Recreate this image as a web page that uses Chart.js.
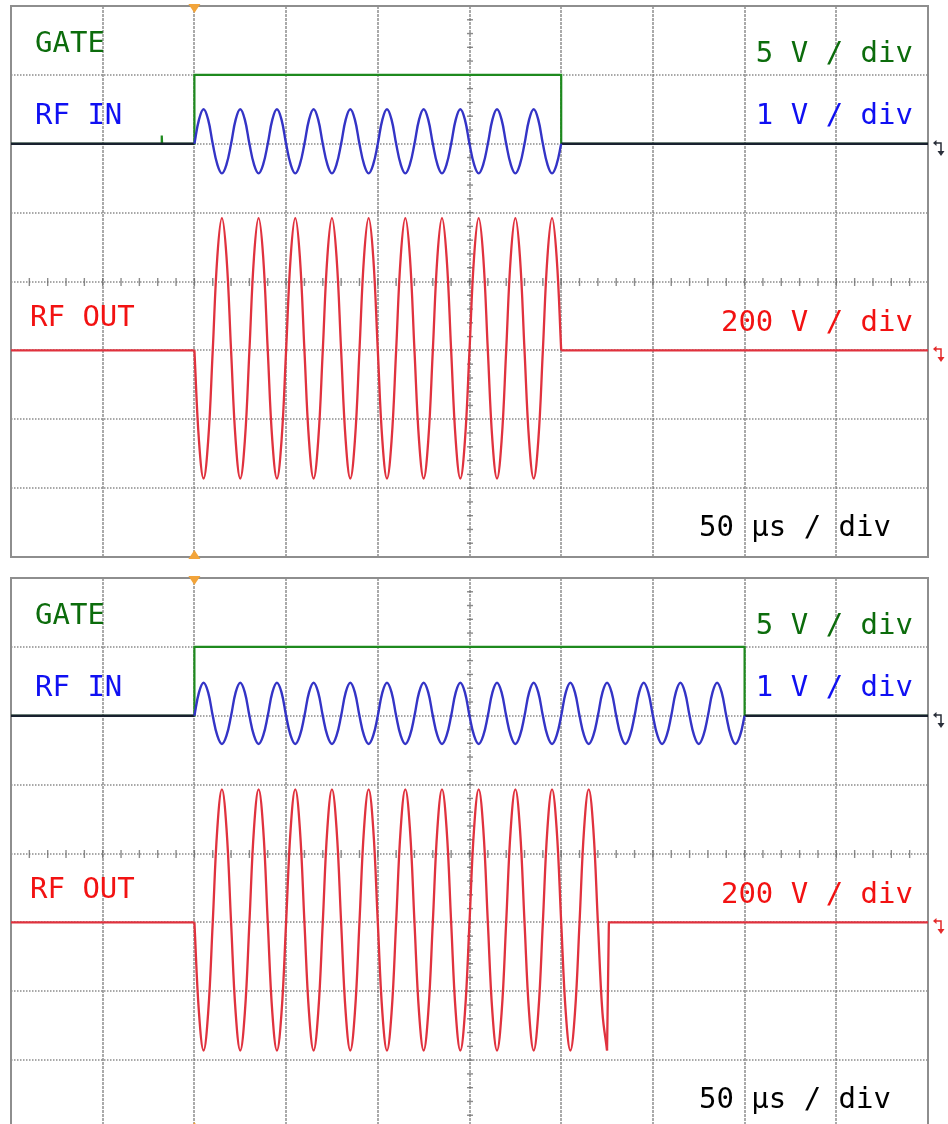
<!DOCTYPE html>
<html>
<head>
<meta charset="utf-8">
<script src="https://cdn.jsdelivr.net/npm/chart.js@4.4.1/dist/chart.umd.min.js"></script>
<style>
  html, body { margin: 0; padding: 0; background: #fff; overflow: hidden; width: 948px; height: 1124px; }
  canvas { position: absolute; left: 0; }
  #scopeTop { top: 0; }
  #scopeBottom { top: 572px; }
</style>
</head>
<body>
<canvas id="scopeTop" width="948" height="567"></canvas>
<canvas id="scopeBottom" width="948" height="567"></canvas>
<script>
// Time base: 10 divisions, 50 µs per division
const timeRangeUs = [0, 500];
const timePerDivUs = 50;
const verticalDivs = [-4, 4];

// Channel scales and trace offsets (in divisions from screen centre)
const voltsPerDiv = { gate: 5, rfIn: 1, rfOut: 200 };
const baselineDiv = { gate: 2, rfIn: 2, rfOut: -1 };

// Sample instants of the 50 kHz bursts, eight per 20 µs cycle (one cycle per row)
const burstTimeUs = [
  100, 102.5, 105, 107.5, 110, 112.5, 115, 117.5,
  120, 122.5, 125, 127.5, 130, 132.5, 135, 137.5,
  140, 142.5, 145, 147.5, 150, 152.5, 155, 157.5,
  160, 162.5, 165, 167.5, 170, 172.5, 175, 177.5,
  180, 182.5, 185, 187.5, 190, 192.5, 195, 197.5,
  200, 202.5, 205, 207.5, 210, 212.5, 215, 217.5,
  220, 222.5, 225, 227.5, 230, 232.5, 235, 237.5,
  240, 242.5, 245, 247.5, 250, 252.5, 255, 257.5,
  260, 262.5, 265, 267.5, 270, 272.5, 275, 277.5,
  280, 282.5, 285, 287.5, 290, 292.5, 295, 297.5,
  300, 302.5, 305, 307.5, 310, 312.5, 315, 317.5,
  320, 322.5, 325, 327.5, 330, 332.5, 335, 337.5,
  340, 342.5, 345, 347.5, 350, 352.5, 355, 357.5,
  360, 362.5, 365, 367.5, 370, 372.5, 375, 377.5,
  380, 382.5, 385, 387.5, 390, 392.5, 395, 397.5,
  400
];

// ---------- Capture 1: 200 µs gate ----------
const gateTopTime  = [0, 82.0, 82.2, 82.4, 100, 100, 300, 300, 500];
const gateTopVolts = [0, 0, 0.6, 0, 0, 5, 5, 0, 0];

const rfInTopVolts = [
  0, 0.35, 0.5, 0.35, 0, -0.3, -0.43, -0.3,
  0, 0.35, 0.5, 0.35, 0, -0.3, -0.43, -0.3,
  0, 0.35, 0.5, 0.35, 0, -0.3, -0.43, -0.3,
  0, 0.35, 0.5, 0.35, 0, -0.3, -0.43, -0.3,
  0, 0.35, 0.5, 0.35, 0, -0.3, -0.43, -0.3,
  0, 0.35, 0.5, 0.35, 0, -0.3, -0.43, -0.3,
  0, 0.35, 0.5, 0.35, 0, -0.3, -0.43, -0.3,
  0, 0.35, 0.5, 0.35, 0, -0.3, -0.43, -0.3,
  0, 0.35, 0.5, 0.35, 0, -0.3, -0.43, -0.3,
  0, 0.35, 0.5, 0.35, 0, -0.3, -0.43, -0.3,
  0
];
const rfOutTopVolts = [
  0, -263, -372, -263, 0, 272, 384, 272,
  0, -263, -372, -263, 0, 272, 384, 272,
  0, -263, -372, -263, 0, 272, 384, 272,
  0, -263, -372, -263, 0, 272, 384, 272,
  0, -263, -372, -263, 0, 272, 384, 272,
  0, -263, -372, -263, 0, 272, 384, 272,
  0, -263, -372, -263, 0, 272, 384, 272,
  0, -263, -372, -263, 0, 272, 384, 272,
  0, -263, -372, -263, 0, 272, 384, 272,
  0, -263, -372, -263, 0, 272, 384, 272,
  0
];

// Idle traces outside the burst (null breaks the line)
const rfInIdleTopTime  = [0, 100, 100, 300, 500];
const rfInIdleTopValue = [0, 0, null, 0, 0];
const rfOutIdleTopTime  = [0, 100, 100, 300, 500];
const rfOutIdleTopValue = [0, 0, null, 0, 0];

// ---------- Capture 2: 300 µs gate, output cut off at 325 µs ----------
const gateBottomTime  = [0, 100, 100, 400, 400, 500];
const gateBottomVolts = [0, 0, 5, 5, 0, 0];

const rfInBottomVolts = [
  0, 0.34, 0.48, 0.34, 0, -0.29, -0.41, -0.29,
  0, 0.34, 0.48, 0.34, 0, -0.29, -0.41, -0.29,
  0, 0.34, 0.48, 0.34, 0, -0.29, -0.41, -0.29,
  0, 0.34, 0.48, 0.34, 0, -0.29, -0.41, -0.29,
  0, 0.34, 0.48, 0.34, 0, -0.29, -0.41, -0.29,
  0, 0.34, 0.48, 0.34, 0, -0.29, -0.41, -0.29,
  0, 0.34, 0.48, 0.34, 0, -0.29, -0.41, -0.29,
  0, 0.34, 0.48, 0.34, 0, -0.29, -0.41, -0.29,
  0, 0.34, 0.48, 0.34, 0, -0.29, -0.41, -0.29,
  0, 0.34, 0.48, 0.34, 0, -0.29, -0.41, -0.29,
  0, 0.34, 0.48, 0.34, 0, -0.29, -0.41, -0.29,
  0, 0.34, 0.48, 0.34, 0, -0.29, -0.41, -0.29,
  0, 0.34, 0.48, 0.34, 0, -0.29, -0.41, -0.29,
  0, 0.34, 0.48, 0.34, 0, -0.29, -0.41, -0.29,
  0, 0.34, 0.48, 0.34, 0, -0.29, -0.41, -0.29,
  0
];
const rfOutBottomVolts = [
  0, -263, -372, -263, 0, 273, 386, 273,
  0, -263, -372, -263, 0, 273, 386, 273,
  0, -263, -372, -263, 0, 273, 386, 273,
  0, -263, -372, -263, 0, 273, 386, 273,
  0, -263, -372, -263, 0, 273, 386, 273,
  0, -263, -372, -263, 0, 273, 386, 273,
  0, -263, -372, -263, 0, 273, 386, 273,
  0, -263, -372, -263, 0, 273, 386, 273,
  0, -263, -372, -263, 0, 273, 386, 273,
  0, -263, -372, -263, 0, 273, 386, 273,
  0, -263, -372, -263, 0, 273, 386, 273,
  0, -263, -372
];

const rfInIdleBottomTime  = [0, 100, 100, 400, 500];
const rfInIdleBottomValue = [0, 0, null, 0, 0];
const rfOutIdleBottomTime  = [0, 100, 100, 325, 326, 500];
const rfOutIdleBottomValue = [0, 0, null, -372, 0, 0];

// Screen annotations
const channelLabels = ['GATE', 'RF IN', 'RF OUT'];
const scaleLabels = ['5 V / div', '1 V / div', '200 V / div', '50 µs / div'];

const COLORS = {
  gate: '#1e8a1e', gateText: '#0c6c0c',
  rfIn: '#3434c6', rfInIdle: '#18202e', rfInText: '#1010f2',
  rfOut: '#e0323e', rfOutText: '#f21212',
  gridV: 'rgba(125,125,125,0.72)', gridH: 'rgba(110,110,110,0.8)',
  frame: '#8e8e8e', marker: '#f2a43a'
};

function toPoints(times, values, channel) {
  return values.map((v, i) => ({
    x: times[i],
    y: v === null ? null : v / voltsPerDiv[channel] + baselineDiv[channel]
  }));
}

function trace(points, color, width, tension) {
  return {
    data: points, borderColor: color, borderWidth: width, tension: tension,
    pointRadius: 0, fill: false, spanGaps: false
  };
}

function line(ctx, x1, y1, x2, y2) {
  ctx.beginPath(); ctx.moveTo(x1, y1); ctx.lineTo(x2, y2); ctx.stroke();
}

// Graticule, frame, marker glyphs and on-screen text
const scopeScreen = {
  id: 'scopeScreen',
  beforeDatasetsDraw(chart) {
    const { ctx, chartArea: a, scales: { x, y } } = chart;
    ctx.save();
    ctx.strokeStyle = COLORS.gridV;
    ctx.lineWidth = 1.8;
    ctx.setLineDash([3, 1]);
    for (let t = timeRangeUs[0] + timePerDivUs; t < timeRangeUs[1]; t += timePerDivUs) {
      const px = Math.round(x.getPixelForValue(t));
      line(ctx, px, a.top, px, a.bottom);
    }
    ctx.strokeStyle = COLORS.gridH;
    ctx.lineWidth = 1.6;
    ctx.setLineDash([1.5, 1.5]);
    for (let d = verticalDivs[0] + 1; d < verticalDivs[1]; d++) {
      const py = Math.round(y.getPixelForValue(d));
      line(ctx, a.left, py, a.right, py);
    }
    // minor ticks along the centre axes (5 per division)
    ctx.setLineDash([]);
    ctx.lineWidth = 1.4;
    ctx.strokeStyle = 'rgba(110,110,110,0.8)';
    const cx = Math.round(x.getPixelForValue((timeRangeUs[0] + timeRangeUs[1]) / 2));
    const cy = Math.round(y.getPixelForValue(0));
    for (let k = verticalDivs[0] * 5; k <= verticalDivs[1] * 5; k++) {
      const py = y.getPixelForValue(k / 5);
      line(ctx, cx - 3, py, cx + 3, py);
    }
    for (let k = 0; k <= (timeRangeUs[1] - timeRangeUs[0]) / timePerDivUs * 5; k++) {
      const px = x.getPixelForValue(timeRangeUs[0] + k * timePerDivUs / 5);
      line(ctx, px, cy - 4, px, cy + 4);
    }
    ctx.strokeStyle = COLORS.frame;
    ctx.lineWidth = 2;
    ctx.strokeRect(a.left, a.top, a.right - a.left, a.bottom - a.top);
    ctx.restore();
  },
  afterDatasetsDraw(chart, args, opts) {
    const { ctx, chartArea: a, scales: { x, y } } = chart;
    ctx.save();
    // trigger position markers
    const tx = x.getPixelForValue(opts.triggerUs);
    ctx.fillStyle = COLORS.marker;
    ctx.beginPath();
    ctx.moveTo(tx - 6, a.top - 2); ctx.lineTo(tx + 6, a.top - 2); ctx.lineTo(tx, a.top + 7);
    ctx.closePath(); ctx.fill();
    ctx.beginPath();
    ctx.moveTo(tx - 6, a.bottom + 2); ctx.lineTo(tx + 6, a.bottom + 2); ctx.lineTo(tx, a.bottom - 7);
    ctx.closePath(); ctx.fill();
    // trigger level glyphs to the right of the screen
    const levels = [
      { div: baselineDiv.rfIn, color: '#2a2f3a' },
      { div: baselineDiv.rfOut, color: '#e42a2a' }
    ];
    ctx.lineWidth = 1.5;
    levels.forEach(l => {
      const py = Math.round(y.getPixelForValue(l.div)) - 1;
      const gx = a.right + 13;
      ctx.strokeStyle = l.color; ctx.fillStyle = l.color;
      ctx.beginPath();
      ctx.moveTo(a.right + 6, py); ctx.lineTo(gx, py); ctx.lineTo(gx, py + 10);
      ctx.stroke();
      ctx.beginPath();
      ctx.moveTo(gx - 3.5, py + 8); ctx.lineTo(gx + 3.5, py + 8); ctx.lineTo(gx, py + 13);
      ctx.closePath(); ctx.fill();
      ctx.beginPath();
      ctx.moveTo(a.right + 5, py); ctx.lineTo(a.right + 8.5, py - 3); ctx.lineTo(a.right + 8.5, py + 3);
      ctx.closePath(); ctx.fill();
    });
    // channel names and scale factors
    ctx.font = '29px "DejaVu Sans Mono", monospace';
    ctx.textBaseline = 'alphabetic';
    opts.labels.forEach(l => {
      ctx.fillStyle = l.color;
      ctx.textAlign = l.align;
      ctx.fillText(l.text, l.x, l.y);
    });
    ctx.restore();
  }
};

const screenLabels = [
  { text: channelLabels[0], color: COLORS.gateText, x: 35, y: 52, align: 'left' },
  { text: channelLabels[1], color: COLORS.rfInText, x: 35, y: 124, align: 'left' },
  { text: channelLabels[2], color: COLORS.rfOutText, x: 30, y: 326, align: 'left' },
  { text: scaleLabels[0], color: COLORS.gateText, x: 913, y: 62, align: 'right' },
  { text: scaleLabels[1], color: COLORS.rfInText, x: 913, y: 124, align: 'right' },
  { text: scaleLabels[2], color: COLORS.rfOutText, x: 913, y: 331, align: 'right' },
  { text: scaleLabels[3], color: '#000000', x: 891, y: 536, align: 'right' }
];

function makeScope(canvasId, datasets) {
  return new Chart(document.getElementById(canvasId), {
    type: 'line',
    data: { datasets: datasets },
    options: {
      responsive: false,
      animation: false,
      devicePixelRatio: 1,
      layout: { padding: { left: 11, right: 20, top: 6, bottom: 10 } },
      scales: {
        x: { type: 'linear', min: timeRangeUs[0], max: timeRangeUs[1], display: false },
        y: { type: 'linear', min: verticalDivs[0], max: verticalDivs[1], display: false }
      },
      plugins: {
        legend: { display: false },
        tooltip: { enabled: false },
        scopeScreen: { triggerUs: 100, labels: screenLabels }
      }
    },
    plugins: [scopeScreen]
  });
}

// first dataset is drawn on top
makeScope('scopeTop', [
  trace(toPoints(burstTimeUs, rfOutTopVolts, 'rfOut'), COLORS.rfOut, 2.3, 0.4),
  trace(toPoints(rfOutIdleTopTime, rfOutIdleTopValue, 'rfOut'), COLORS.rfOut, 2.3, 0),
  trace(toPoints(burstTimeUs, rfInTopVolts, 'rfIn'), COLORS.rfIn, 2.4, 0.4),
  trace(toPoints(rfInIdleTopTime, rfInIdleTopValue, 'rfIn'), COLORS.rfInIdle, 2.4, 0),
  trace(toPoints(gateTopTime, gateTopVolts, 'gate'), COLORS.gate, 2.2, 0)
]);

makeScope('scopeBottom', [
  trace(toPoints(burstTimeUs, rfOutBottomVolts, 'rfOut'), COLORS.rfOut, 2.3, 0.4),
  trace(toPoints(rfOutIdleBottomTime, rfOutIdleBottomValue, 'rfOut'), COLORS.rfOut, 2.3, 0),
  trace(toPoints(burstTimeUs, rfInBottomVolts, 'rfIn'), COLORS.rfIn, 2.4, 0.4),
  trace(toPoints(rfInIdleBottomTime, rfInIdleBottomValue, 'rfIn'), COLORS.rfInIdle, 2.4, 0),
  trace(toPoints(gateBottomTime, gateBottomVolts, 'gate'), COLORS.gate, 2.2, 0)
]);
</script>
</body>
</html>
